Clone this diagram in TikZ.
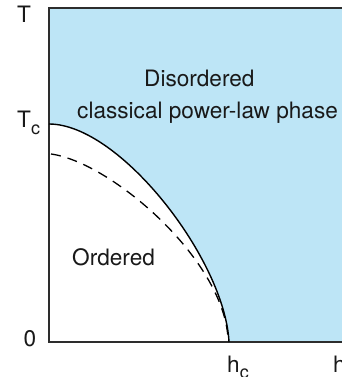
\documentclass[tikz,border=0pt]{standalone}
\usepackage{fontspec}
\setmainfont{TeX Gyre Heros}
\usepackage{xcolor}
\usetikzlibrary{positioning}
\definecolor{phaseblue}{RGB}{189,229,246}
\definecolor{axisgray}{RGB}{45,45,45}

\begin{document}
\begin{tikzpicture}[
    x=1pt, y=-1pt,
    lbl/.style={font=\fontsize{22.6}{26}\selectfont, inner sep=0pt, anchor=base west, text=black!90},
    axis/.style={draw=axisgray, line width=1.8pt},
    border/.style={draw=black, line width=1.4pt},
    guess/.style={draw=black, line width=1.3pt, dash pattern=on 10pt off 7pt}
]
\useasboundingbox (0,0) rectangle (342,377);

% --- Phase regions ---
\fill[phaseblue] (49,8) rectangle (342,342);
\fill[white] (49,342) -- (49,124) .. controls (120,124) and (225,260) .. (229,342) -- cycle;

% --- Axes and top edge ---
\coordinate (top)   at (49,8);
\coordinate (orig)  at (49,342);
\coordinate (right) at (342,342);
\coordinate (topr)  at (342,8);
\coordinate (tc)    at (49,124);
\coordinate (hc)    at (229,342);
\draw[axis] (topr) -- (top) -- (orig) -- (right);

% --- Phase boundary (solid) and estimate (dashed) ---
\draw[border] (tc) .. controls (120,124) and (225,260) .. (hc);
\coordinate (dstart) at (51,154);
\coordinate (dend)   at (228,338);
\draw[guess] (dstart) .. controls (110,162) and (223,258) .. (dend);

% --- Axis labels ---
\node[lbl, anchor=base] (tlab) at (24,23) {T};
\node[lbl] (tclab) at (17,128) {T\raisebox{-0.3em}{\fontsize{18}{18}\selectfont c}};
\node[lbl, anchor=base] (zlab) at (30,346) {0};
\node[lbl] (hclab) at (227,372) {h\raisebox{-0.3em}{\fontsize{18}{18}\selectfont c}};
\node[lbl] (hlab) at (333,372) {h};

% --- Region labels ---
\node[lbl] (dis) at (144,87) {Disordered};
\node[lbl] (cls) at (77,118) {classical power-law phase};
\node[lbl] (ord) at (72,265) {Ordered};
\end{tikzpicture}
\end{document}
